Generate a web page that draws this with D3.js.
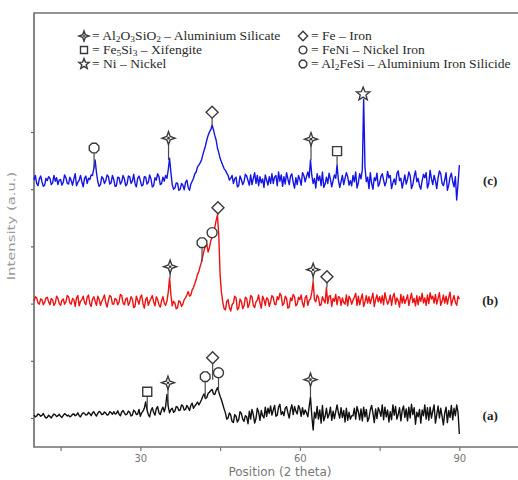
<!DOCTYPE html>
<html>
<head>
<meta charset="utf-8">
<script src="https://cdn.jsdelivr.net/npm/d3@7"></script>
<style>
  body { margin: 0; background: #fff; }
  svg { display: block; }
</style>
</head>
<body>
<div class="canvas"></div>
<script>
// XRD patterns, 2theta from 10 to 90 in 0.25 deg steps (one row = 5 deg)
const thetaStart = 10;
const thetaStep = 0.25;

const seriesA = [
  110, 80, 95, 130, 120, 90, 105, 140, 90, 60, 70, 110, 85, 60, 100, 130, 115, 85, 100, 125,
  90, 70, 105, 135, 120, 95, 110, 80, 95, 125, 130, 100, 115, 150, 100, 80, 125, 150, 140, 110,
  120, 160, 135, 100, 150, 170, 125, 95, 140, 175, 160, 120, 130, 165, 145, 110, 120, 170, 155, 125,
  170, 130, 140, 185, 125, 100, 165, 190, 150, 115, 130, 180, 160, 95, 110, 195, 175, 120, 130, 210,
  90, 150, 180, 230, 340, 200, 120, 80, 190, 240, 160, 110, 220, 260, 150, 120, 200, 250, 170, 260,
  470, 260, 150, 210, 230, 160, 180, 260, 250, 190, 200, 290, 270, 200, 210, 280, 240, 190, 280, 320,
  230, 270, 300, 340, 290, 330, 380, 440, 480, 400, 420, 490, 510, 540, 560, 480, 470, 540, 590, 520,
  440, 380, 300, 220, 150, 40, 60, 150, 110, 0, -20, 120, 90, -10, 30, 170, 140, 40, 0, 100,
  80, -40, 180, 40, 210, 120, -30, 50, 230, 160, 20, 190, 100, 60, 250, 90, 230, 140, 270, 110,
  200, 280, 90, 110, 250, 300, 120, 170, 100, 230, 260, 150, 60, 210, 290, 120, 260, 180, 130, 280,
  220, 90, 240, 120, 200, 150, 80, 260, 420, 100, -150, 160, 60, 260, 40, 200, -30, 280, 10, 90,
  230, 60, 120, 250, 20, 180, 50, 170, 290, 150, 60, 240, 70, 190, -10, 230, 20, 160, 40, 100,
  100, 230, 40, 260, 170, 30, 220, 10, 250, 80, 210, 0, 60, 200, 280, 140, -20, 220, 50, 240,
  180, 90, 290, 30, 250, 80, 200, -10, 170, 30, 290, 110, 260, 40, 120, 240, 10, 190, 270, 70,
  220, 10, 250, 60, 300, 120, 240, -50, 160, 80, 210, -30, 200, 100, 290, 40, 240, 20, 250, 60,
  180, 290, -30, 120, 270, 60, 230, 90, -60, 150, 250, -20, 190, 70, 280, 30, 230, 100, 290, 160,
  -220
];

const seriesB = [
  90, 170, 150, 60, 40, 130, 120, 30, 70, 150, 160, 80, 30, 140, 110, 20, 60, 180, 140, 50,
  20, 110, 130, 40, 80, 190, 170, 60, 40, 140, 110, 0, 150, 190, 10, 90, 120, 180, 70, 30,
  160, 200, 50, 0, 130, 170, 90, 20, 180, 120, 20, 90, 140, 200, 60, -10, 110, 190, 170, 40,
  40, 140, 120, 30, 80, 210, 190, 60, 30, 130, 150, 20, 70, 170, 130, -20, 0, 180, 110, 40,
  160, 200, 50, -30, 120, 160, 20, 90, 140, 190, 80, 10, 170, 120, 30, -10, 100, 170, 60, 20,
  90, 250, 500, 200, 10, 90, 60, -40, -20, 100, 80, 0, 40, 120, 150, 200, 260, 180, 200, 290,
  330, 400, 470, 560, 610, 700, 780, 880, 990, 1050, 1080, 950, 1030, 1150, 1200, 1300, 1380, 1500, 1600, 1250,
  555, 250, 80, -40, -60, 90, 120, -20, -80, 30, 60, 180, 150, -60, -30, 130, 90, -40, 10, 160,
  140, -20, 40, 190, 170, 20, -20, 80, 110, 200, 60, -30, 180, 120, 20, 150, 130, 0, 80, 190,
  160, 40, 30, 170, 120, 230, 190, 20, 50, 180, 140, -30, -10, 150, 100, 210, 170, 10, 40, 160,
  120, 200, 60, -10, 150, 190, 20, 110, 130, 250, 430, 120, 80, 200, 160, 20, 30, 170, 110, 60,
  330, 50, 180, 190, 0, 140, 90, 210, 30, 170, 160, 20, 150, 70, 40, 200, 10, 180, 130, 40,
  110, 160, 230, 20, 180, 30, 130, 220, 0, 80, 190, 60, 170, 50, 140, 230, 0, 120, 200, 80,
  170, 60, 190, 30, 240, 130, 40, 90, 200, 20, 170, 230, 40, 150, 100, -10, 210, 60, 180, 50,
  120, 200, 20, 130, 230, 70, 140, 10, 190, 30, 170, 90, 230, 60, 150, 20, 200, 50, 240, 130,
  180, 60, 210, 40, 140, 240, 20, 90, 200, 60, 180, 40, 160, 250, 20, 110, 190, 70, 20, 180,
  130
];

const seriesC = [
  120, 200, 60, 20, 140, 190, 90, 10, 30, 150, 110, 180, 150, 40, 70, 200, 100, 160, 40, 120,
  130, 30, 80, 210, 160, 60, 50, 170, 110, 30, 140, 230, 20, 80, 120, 200, 90, 0, 150, 190,
  60, 150, 130, 210, 200, 320, 470, 250, 90, 10, 40, 180, 150, 60, 110, 210, 180, 50, 70, 200,
  130, 10, 20, 170, 160, 50, 90, 200, 140, 20, 50, 190, 180, 60, 100, 220, 60, 0, 150, 190,
  110, 20, 30, 180, 170, 50, 80, 210, 140, 0, 20, 160, 120, 230, 180, 40, 60, 170, 100, 200,
  150, 300, 500, 250, 40, -40, -20, 70, 60, -60, -40, 60, 30, -50, 80, 120, -10, -60, 50, 100,
  150, 230, 260, 350, 380, 420, 470, 560, 640, 720, 820, 900, 960, 1000, 1080, 1000, 900, 820, 680, 600,
  500, 440, 380, 320, 290, 240, 200, 120, 150, 200, 60, 140, 170, 0, 20, 190, 130, 40, 90, 220,
  190, 110, 30, 210, 40, 150, 250, 60, 200, 20, 180, 70, 140, -10, 210, 120, 30, 180, 60, 230,
  60, 170, 200, 20, 260, 100, 210, 10, 180, 50, 250, 140, 40, 190, 230, 80, -20, 160, 40, 200,
  130, 30, 250, 200, 90, 180, 260, 160, 470, 200, 60, 150, -20, 230, 110, 190, 20, 260, -10, 50,
  170, 60, 240, 130, 0, 110, 210, 150, 380, 120, -10, 90, 200, 40, 150, 250, 180, 30, 110, 20,
  200, 90, 260, -20, 70, 230, 140, 300, 1530, 350, 90, 170, -30, 250, 60, -40, 160, 110, 240, 10,
  60, 180, 230, 120, 20, 90, 270, 160, 200, -30, 70, 140, 40, 230, 280, 110, 150, -20, 90, 210,
  50, 130, 260, 200, -30, 40, 180, 280, 90, 150, 20, -40, 110, 220, 160, 250, -20, 60, 290, 140,
  40, 200, 110, -30, 160, 280, 230, 60, 20, 120, 250, -60, 30, 170, 240, 90, 0, 180, -230, 60,
  380
];

const seriesNames = ["(a)", "(b)", "(c)"];
const seriesColors = ["#111111", "#ee1111", "#1414e6"];
const offsets = [-60, 1950, 4040];

// phase markers: [2theta, intensity, symbol]
const markersA = [[31.3, 520, "sq"], [35.2, 677, "cross"], [42.2, 782, "hex"], [43.6, 1115, "dia"], [44.7, 852, "circ"], [62.0, 730, "cross"]];
const markersB = [[35.6, 695, "cross"], [41.6, 1115, "hex"], [43.5, 1290, "circ"], [44.6, 1727, "dia"], [62.5, 642, "cross"], [65.1, 520, "dia"]];
const markersC = [[21.3, 678, "hex"], [35.3, 852, "cross"], [43.5, 1307, "dia"], [62.1, 835, "cross"], [67.0, 625, "sq"], [71.9, 1622, "star"]];

const xTicks = [15, 30, 45, 60, 75, 90];
const yTicks = [0, 1000, 2000, 3000, 4000, 5000];

// legend entries: symbol, text pieces ([text, isSubscript])
const legendLeft = [
  ["cross", [["= Al"], ["2", 1], ["O"], ["3", 1], ["SiO"], ["2", 1], [" \u2013 Aluminium Silicate"]]],
  ["sq", [["= Fe"], ["5", 1], ["Si"], ["3", 1], [" \u2013 Xifengite"]]],
  ["star", [["= Ni \u2013 Nickel"]]]
];
const legendRight = [
  ["dia", [["= Fe \u2013 Iron"]]],
  ["circ", [["= FeNi \u2013 Nickel Iron"]]],
  ["hex", [["= Al"], ["2", 1], ["FeSi \u2013 Aluminium Iron Silicide"]]]
];

const W = 518, H = 480;
const plot = { left: 34, top: 13, bottom: 447 };

const svg = d3.select(".canvas").append("svg")
  .attr("width", W).attr("height", H);

const x = d3.scaleLinear().domain([10, 101.5]).range([plot.left, 520.5]);
const y = d3.scaleLinear().domain([-507, 7080]).range([plot.bottom, plot.top]);

// symbol path builders (centred on 0,0)
const symbolPath = (type, k = 1) => {
  const p = d3.path();
  if (type === "sq") {
    p.rect(-4.5 * k, -4.5 * k, 9 * k, 9 * k);
  } else if (type === "dia") {
    p.moveTo(0, -6 * k); p.lineTo(6 * k, 0); p.lineTo(0, 6 * k); p.lineTo(-6 * k, 0); p.closePath();
  } else if (type === "circ") {
    p.arc(0, 0, 5 * k, 0, 2 * Math.PI);
  } else if (type === "hex") {
    for (let i = 0; i < 8; i++) {
      const a = Math.PI / 8 + i * Math.PI / 4;
      const px = 5.2 * k * Math.cos(a), py = 5.2 * k * Math.sin(a);
      i === 0 ? p.moveTo(px, py) : p.lineTo(px, py);
    }
    p.closePath();
  } else if (type === "cross") {
    const o = 6.5 * k, n = 1.7 * k;
    p.moveTo(0, -o); p.lineTo(n, -n); p.lineTo(o, 0); p.lineTo(n, n);
    p.lineTo(0, o); p.lineTo(-n, n); p.lineTo(-o, 0); p.lineTo(-n, -n); p.closePath();
  } else if (type === "star") {
    for (let i = 0; i < 10; i++) {
      const r = (i % 2 === 0 ? 7 : 3) * k;
      const a = -Math.PI / 2 + i * Math.PI / 5;
      const px = r * Math.cos(a), py = r * Math.sin(a);
      i === 0 ? p.moveTo(px, py) : p.lineTo(px, py);
    }
    p.closePath();
  }
  return p.toString();
};

const drawSymbol = (g, type, cx, cy, k = 1) => {
  const s = g.append("g").attr("transform", `translate(${cx},${cy})`);
  s.append("path").attr("d", symbolPath(type, k))
    .attr("fill", "#fff").attr("stroke", "#3a3a3a").attr("stroke-width", 1.4);
  if (type === "cross") {
    s.append("circle").attr("r", 1.3 * k).attr("fill", "#3a3a3a");
  }
};

// axes
const xAxis = d3.axisBottom(x).tickValues(xTicks)
  .tickFormat((d) => (d % 30 === 0 ? d : "")).tickSize(4).tickPadding(4);
svg.append("g").attr("transform", `translate(0,${plot.bottom})`).call(xAxis)
  .call((g) => g.select(".domain").remove())
  .call((g) => g.selectAll("line").attr("stroke", "#777").attr("stroke-width", 1.2))
  .call((g) => g.selectAll("text").attr("fill", "#777")
    .style("font-family", "'DejaVu Sans', sans-serif").style("font-size", "10px"));

const yAxis = d3.axisLeft(y).tickValues(yTicks).tickFormat("").tickSize(3);
svg.append("g").attr("transform", `translate(${plot.left},0)`).call(yAxis)
  .call((g) => g.select(".domain").remove())
  .call((g) => g.selectAll("line").attr("stroke", "#666").attr("stroke-width", 1.2));

// frame (right edge runs off the picture)
svg.append("path")
  .attr("d", `M${W + 10},${plot.top}H${plot.left}V${plot.bottom}H${W + 10}`)
  .attr("fill", "none").attr("stroke", "#707070").attr("stroke-width", 1.7);

// patterns
const line = d3.line()
  .x((d, i) => x(thetaStart + i * thetaStep))
  .y((d) => d);

const allSeries = [seriesA, seriesB, seriesC];
const allMarkers = [markersA, markersB, markersC];

allSeries.forEach((s, k) => {
  svg.append("path")
    .datum(s.map((v) => y(v + offsets[k])))
    .attr("d", line)
    .attr("fill", "none")
    .attr("stroke", seriesColors[k])
    .attr("stroke-width", 1.4)
    .attr("stroke-linejoin", "round");

  svg.append("text")
    .attr("x", x(95.8)).attr("y", y(100 + offsets[k]) + 4)
    .attr("text-anchor", "middle")
    .style("font-family", "'Liberation Serif', serif")
    .style("font-weight", "bold").style("font-size", "13px")
    .attr("fill", "#222")
    .text(seriesNames[k]);
});

// peak markers with stems
allMarkers.forEach((ms, k) => {
  const g = svg.append("g");
  ms.forEach(([t, v, type]) => {
    const idx = Math.round((t - thetaStart) / thetaStep);
    const base = allSeries[k][idx] + offsets[k];
    const my = y(v + offsets[k]);
    const by = Math.min(y(base), my + 22);
    if (by > my + 6) {
      g.append("line").attr("x1", x(t)).attr("x2", x(t))
        .attr("y1", my + 5).attr("y2", by)
        .attr("stroke", "#4a4a4a").attr("stroke-width", 1.2);
    }
    drawSymbol(g, type, x(t), my);
  });
});

// legend
const legend = svg.append("g")
  .style("font-family", "'Liberation Serif', serif")
  .style("font-size", "11.5px").attr("fill", "#2a2a2a");

const rowY = [36, 50, 64];
const drawLegendCol = (items, sx, tx) => {
  items.forEach(([type, parts], i) => {
    drawSymbol(legend, type, sx, rowY[i], 0.78);
    const t = legend.append("text")
      .attr("transform", `translate(${tx},${rowY[i] + 3.5}) scale(1.18,1)`);
    let shifted = false;
    parts.forEach(([s, sub]) => {
      const ts = t.append("tspan").text(s);
      if (sub && !shifted) { ts.attr("dy", 2.5); shifted = true; }
      else if (!sub && shifted) { ts.attr("dy", -2.5); shifted = false; }
      if (sub) ts.style("font-size", "8px");
    });
  });
};
drawLegendCol(legendLeft, 84, 92);
drawLegendCol(legendRight, 303, 311);

// axis titles
svg.append("text")
  .attr("x", 280).attr("y", 476).attr("text-anchor", "middle")
  .style("font-family", "'DejaVu Sans', sans-serif").style("font-size", "12px")
  .attr("fill", "#777").text("Position (2 theta)");

svg.append("text")
  .attr("transform", "translate(15,226) rotate(-90) scale(1.35,1)").attr("text-anchor", "middle")
  .style("font-family", "'DejaVu Sans', sans-serif").style("font-size", "11px")
  .attr("fill", "#999").text("Intensity (a.u.)");
</script>
</body>
</html>
